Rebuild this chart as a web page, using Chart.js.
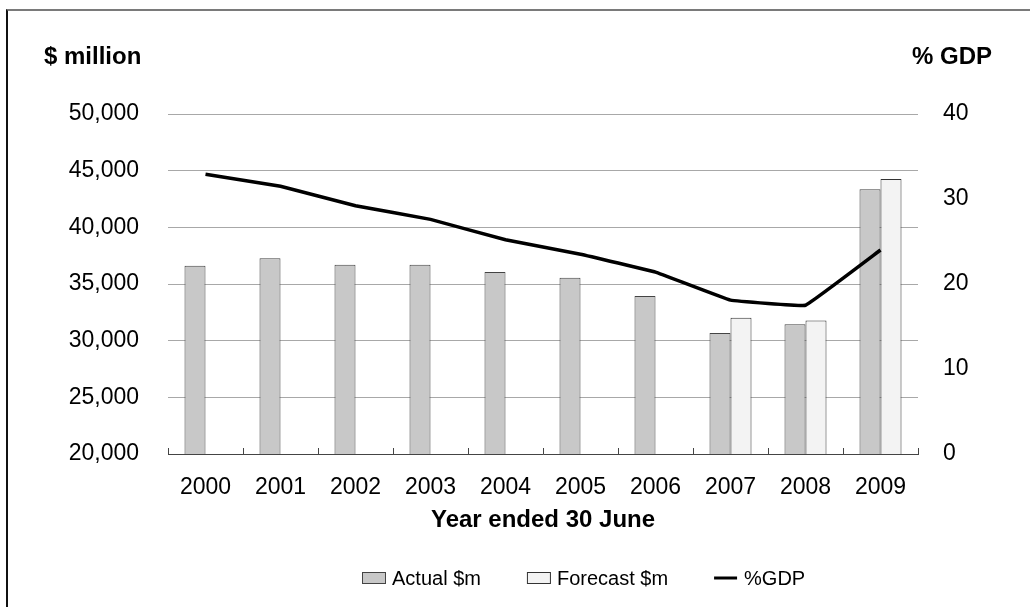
<!DOCTYPE html>
<html>
<head>
<meta charset="utf-8">
<script src="https://cdn.jsdelivr.net/npm/chart.js@4/dist/chart.umd.min.js"></script>
<style>
  html, body { margin: 0; padding: 0; background: #fff; overflow: hidden; }
  #wrap { position: relative; width: 1030px; height: 607px; }
  #frame { position: absolute; left: 6px; top: 9px; width: 1040px; height: 620px;
           border-top: 2px solid #7a7a7a; border-left: 2px solid #111; pointer-events: none; }
</style>
</head>
<body>
<div id="wrap">
  <canvas id="c" width="1030" height="607"></canvas>
  <div id="frame"></div>
</div>
<script>
// Years ended 30 June
const years = ['2000', '2001', '2002', '2003', '2004', '2005', '2006', '2007', '2008', '2009'];
// Actual spending, $ million
const actual = [36600, 37270, 36700, 36700, 36060, 35560, 33940, 30680, 31440, 43350];
// Forecast spending, $ million (budget years only)
const forecast = [null, null, null, null, null, null, null, 32030, 31770, 44270];
// Spending as % of GDP
const pctGDP = [32.9, 31.5, 29.2, 27.6, 25.2, 23.5, 21.4, 18.1, 17.5, 24.0];

const FONT = "'Liberation Sans', Arial, sans-serif";

// Axis captions, inward tick marks on the category axis, and the key row
const decorations = {
  id: 'decorations',
  afterDraw(chart) {
    const ctx = chart.ctx;
    const yL = chart.scales.y, yR = chart.scales.y1, x = chart.scales.x;
    ctx.save();
    ctx.fillStyle = '#000';
    ctx.font = 'bold 24px ' + FONT;
    ctx.textBaseline = 'middle';
    ctx.textAlign = 'left';
    ctx.fillText('$ million', yL.left + 44, 57);
    ctx.textAlign = 'right';
    ctx.fillText('% GDP', yR.right - 38, 57);

    // short tick marks between categories, pointing up into the plot
    ctx.strokeStyle = '#444';
    ctx.lineWidth = 1;
    const n = x.ticks.length;
    const step = (x.right - x.left) / n;
    ctx.beginPath();
    for (let i = 0; i <= n; i++) {
      const px = Math.round(x.left + i * step) + 0.5;
      ctx.moveTo(px, x.top - 6);
      ctx.lineTo(px, x.top);
    }
    ctx.stroke();

    // key row
    ctx.font = '20px ' + FONT;
    ctx.textAlign = 'left';
    ctx.textBaseline = 'middle';
    const cy = 578;
    let cx = 362;
    chart.data.datasets.forEach(ds => {
      if (ds.type === 'line') {
        ctx.strokeStyle = ds.borderColor;
        ctx.lineWidth = 3;
        ctx.beginPath();
        ctx.moveTo(cx, cy);
        ctx.lineTo(cx + 23, cy);
        ctx.stroke();
      } else {
        ctx.fillStyle = ds.backgroundColor;
        ctx.fillRect(cx + 0.5, cy - 5.5, 23, 11);
        ctx.strokeStyle = ds.borderColor;
        ctx.lineWidth = 1;
        ctx.strokeRect(cx + 0.5, cy - 5.5, 23, 11);
      }
      cx += 30;
      ctx.fillStyle = '#000';
      ctx.fillText(ds.label, cx, cy + 1);
      cx += ctx.measureText(ds.label).width + 46;
    });
    ctx.restore();
  }
};

new Chart(document.getElementById('c'), {
  type: 'bar',
  data: {
    labels: years,
    datasets: [
      {
        label: 'Actual $m',
        data: actual,
        yAxisID: 'y',
        backgroundColor: '#c8c8c8',
        borderColor: '#444',
        borderWidth: 1,
        categoryPercentage: 0.56,
        barPercentage: 1,
        order: 2
      },
      {
        label: 'Forecast $m',
        data: forecast,
        yAxisID: 'y',
        backgroundColor: '#f3f3f3',
        borderColor: '#333',
        borderWidth: 1,
        categoryPercentage: 0.56,
        barPercentage: 1,
        order: 2
      },
      {
        type: 'line',
        label: '%GDP',
        data: pctGDP,
        yAxisID: 'y1',
        borderColor: '#000',
        backgroundColor: '#000',
        borderWidth: 3.5,
        pointRadius: 0,
        tension: 0.05,
        fill: false,
        order: 1
      }
    ]
  },
  options: {
    responsive: false,
    animation: false,
    devicePixelRatio: 1,
    layout: { padding: { top: 114, left: 0, right: 0, bottom: 72 } },
    plugins: {
      tooltip: { enabled: false },
      legend: { display: false }
    },
    scales: {
      x: {
        grid: { display: false, drawTicks: false },
        border: { display: true, color: '#444', width: 1 },
        ticks: { color: '#000', font: { family: FONT, size: 23 }, padding: 20 },
        title: {
          display: true,
          text: 'Year ended 30 June',
          color: '#000',
          font: { family: FONT, size: 24, weight: 'bold' },
          padding: { top: 3, bottom: 0 }
        },
        afterFit(s) { s.height = 81; }
      },
      y: {
        position: 'left',
        min: 20000,
        max: 50000,
        ticks: {
          stepSize: 5000,
          color: '#000',
          padding: 29,
          font: { family: FONT, size: 23 },
          callback: v => v.toLocaleString('en-US')
        },
        grid: { color: '#a8a8a8', lineWidth: 1, drawTicks: false },
        border: { display: false },
        afterFit(s) { s.width = 168; }
      },
      y1: {
        position: 'right',
        min: 0,
        max: 40,
        ticks: {
          stepSize: 10,
          color: '#000',
          padding: 25,
          font: { family: FONT, size: 23 }
        },
        grid: { display: false, drawTicks: false },
        border: { display: false },
        afterFit(s) { s.width = 112; }
      }
    }
  },
  plugins: [decorations]
});
</script>
</body>
</html>
